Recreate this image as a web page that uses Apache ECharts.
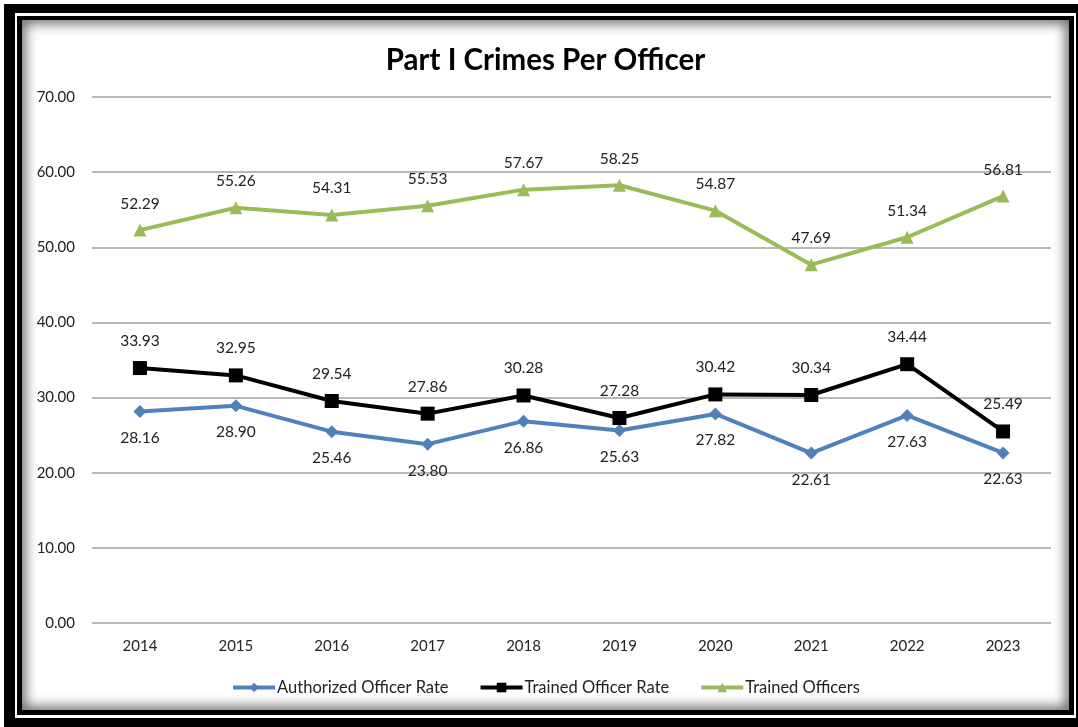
<!DOCTYPE html>
<html>
<head>
<meta charset="utf-8">
<script src="https://cdn.jsdelivr.net/npm/echarts@6/dist/echarts.min.js"></script>
<style>
  html, body { margin: 0; padding: 0; background: #fff; }
  #frame {
    position: absolute; left: 4px; top: 4px; width: 1074px; height: 723px;
    box-sizing: border-box; background: #000;
  }
  #gap {
    position: absolute; left: 11px; top: 9px; right: 2px; bottom: 9px;
    background: #fff;
  }
  #inner {
    position: absolute; left: 2px; top: 3px; right: 2px; bottom: 3px;
    background: #000;
  }
  #chart {
    position: absolute; left: 5px; top: 4px; right: 5px; bottom: 5px;
    background: #fff;
    box-shadow: inset 0 0 12px 4px rgba(0,0,0,0.55);
  }
</style>
</head>
<body>
<div id="frame"><div id="gap"><div id="inner"><div id="chart"></div></div></div></div>
<script>
// Years along the x axis
const years = ['2014', '2015', '2016', '2017', '2018', '2019', '2020', '2021', '2022', '2023'];
// Part I crimes per authorized officer
const authorizedRate = [28.16, 28.90, 25.46, 23.80, 26.86, 25.63, 27.82, 22.61, 27.63, 22.63];
// Part I crimes per trained officer
const trainedRate = [33.93, 32.95, 29.54, 27.86, 30.28, 27.28, 30.42, 30.34, 34.44, 25.49];
// Trained officers series
const trainedOfficers = [52.29, 55.26, 54.31, 55.53, 57.67, 58.25, 54.87, 47.69, 51.34, 56.81];

const el = document.getElementById('chart');
const chart = echarts.init(el, null, { renderer: 'canvas' });

// The chart div sits inside the frame; convert page coordinates to chart-local ones
const off = el.getBoundingClientRect();
const pageX = x => x - off.left;
const pageY = y => y - off.top;

const font = "Lato, 'Open Sans', sans-serif";

function lineSeries(name, data, color, symbol, size, labelPos) {
  return {
    name, type: 'line', data,
    symbol, symbolSize: size,
    lineStyle: { color, width: 4 },
    itemStyle: { color },
    label: {
      show: true, position: labelPos, distance: 12,
      formatter: p => p.value.toFixed(2),
      color: '#222', fontSize: 15.5, fontFamily: font
    },
    emphasis: { disabled: true },
    animation: false
  };
}

chart.setOption({
  animation: false,
  title: {
    text: 'Part I Crimes Per Officer',
    left: 'center', top: pageY(40),
    textStyle: { fontSize: 29.5, fontWeight: 'bold', color: '#000', fontFamily: font }
  },
  legend: {
    top: pageY(674), left: 'center',
    itemWidth: 42, itemHeight: 12, itemGap: 30,
    lineStyle: { width: 4 },
    textStyle: { fontSize: 16.5, color: '#222', fontFamily: font, padding: [0, 0, 0, -3] },
    data: ['Authorized Officer Rate', 'Trained Officer Rate', 'Trained Officers']
  },
  grid: {
    left: pageX(92), right: off.width - pageX(1051),
    top: pageY(97), bottom: off.height - pageY(623),
    containLabel: false
  },
  xAxis: {
    type: 'category', data: years, boundaryGap: true,
    axisLine: { show: false }, axisTick: { show: false },
    axisLabel: { color: '#222', fontSize: 15, fontFamily: font, margin: 16 }
  },
  yAxis: {
    type: 'value', min: 0, max: 70, interval: 10,
    axisLine: { show: false }, axisTick: { show: false },
    axisLabel: { color: '#222', fontSize: 15, fontFamily: font, margin: 17, formatter: v => v.toFixed(2) },
    splitLine: { lineStyle: { color: '#a0a0a0', width: 1.5 } }
  },
  series: [
    lineSeries('Authorized Officer Rate', authorizedRate, '#4f81bd', 'diamond', 13, 'bottom'),
    lineSeries('Trained Officer Rate', trainedRate, '#000000', 'rect', 14, 'top'),
    lineSeries('Trained Officers', trainedOfficers, '#9bbb59', 'triangle', 13, 'top')
  ]
});
</script>
</body>
</html>
